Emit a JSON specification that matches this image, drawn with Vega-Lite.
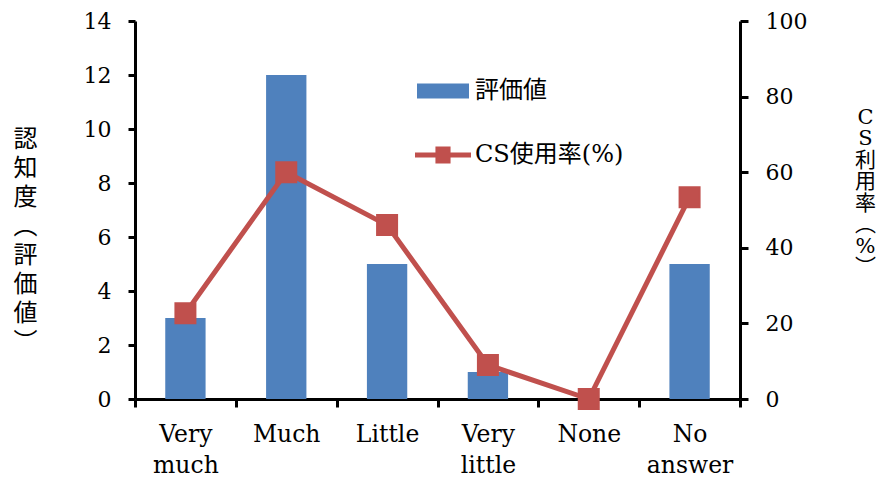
{
  "$schema": "https://vega.github.io/schema/vega-lite/v6.json",
  "width": 605,
  "height": 378,
  "autosize": {"type": "none"},
  "padding": {"left": 135, "top": 21, "right": 142, "bottom": 81},
  "background": "white",
  "config": {
    "view": {"stroke": null},
    "axis": {
      "grid": false,
      "domainColor": "black",
      "domainWidth": 3,
      "tickColor": "black",
      "tickWidth": 3,
      "labelColor": "black",
      "labelFont": "DejaVu Serif",
      "labelFontSize": 22,
      "titleColor": "black",
      "titleFontWeight": "normal"
    }
  },
  "data": {
    "values": [
      {"level": "Very much", "score": 3, "cs": 22.7},
      {"level": "Much", "score": 12, "cs": 60},
      {"level": "Little", "score": 5, "cs": 46},
      {"level": "Very little", "score": 1, "cs": 9},
      {"level": "None", "score": 0, "cs": 0},
      {"level": "No answer", "score": 5, "cs": 53.4}
    ]
  },
  "encoding": {
    "x": {
      "field": "level",
      "type": "nominal",
      "sort": null,
      "scale": {"paddingInner": 0, "paddingOuter": 0},
      "axis": {
        "title": null,
        "labelAngle": 0,
        "labelAlign": "center",
        "labelBaseline": "top",
        "labelExpr": "split(datum.label, ' ')",
        "labelFontSize": 23.5,
        "labelLineHeight": 31,
        "labelPadding": 15,
        "tickBand": "extent",
        "tickSize": 8
      }
    }
  },
  "layer": [
    {
      "mark": {"type": "bar", "width": {"band": 0.4}},
      "encoding": {
        "y": {
          "field": "score",
          "type": "quantitative",
          "scale": {"domain": [0, 14]},
          "axis": {
            "orient": "left",
            "values": [0, 2, 4, 6, 8, 10, 12, 14],
            "tickSize": 7,
            "labelPadding": 17,
            "title": ["認", "知", "度", "︵", "評", "価", "値", "︶"],
            "titleAngle": 0,
            "titleX": -110,
            "titleY": 118,
            "titleAlign": "center",
            "titleBaseline": "middle",
            "titleFont": "Noto Sans CJK JP",
            "titleFontSize": 24,
            "titleLineHeight": 29
          }
        },
        "fill": {
          "datum": "評価値",
          "scale": {"range": ["#4F81BD"]},
          "legend": {
            "title": null,
            "orient": "none",
            "legendX": 282,
            "legendY": 44,
            "padding": 0,
            "symbolType": "M-1,-0.29H1V0.29H-1Z",
            "symbolSize": 2704,
            "symbolStrokeWidth": 0,
            "labelFont": "DejaVu Serif, Noto Sans CJK JP",
            "labelFontSize": 24,
            "labelColor": "black",
            "labelOffset": 6
          }
        }
      }
    },
    {
      "mark": {
        "type": "line",
        "strokeWidth": 5,
        "point": {"shape": "square", "size": 400, "filled": true, "fill": "#C0504D"}
      },
      "encoding": {
        "y": {
          "field": "cs",
          "type": "quantitative",
          "scale": {"domain": [0, 100]},
          "axis": {
            "orient": "right",
            "values": [0, 20, 40, 60, 80, 100],
            "tickSize": 8,
            "labelPadding": 17,
            "title": ["C", "S", "利", "用", "率", "︵", "%", "︶"],
            "titleAngle": 0,
            "titleX": 125,
            "titleY": 96,
            "titleAlign": "center",
            "titleBaseline": "middle",
            "titleFont": "DejaVu Serif, Noto Sans CJK JP",
            "titleFontSize": 21,
            "titleLineHeight": 21.5
          }
        },
        "stroke": {
          "datum": "CS使用率(%)",
          "scale": {"range": ["#C0504D"]},
          "legend": {
            "title": null,
            "orient": "none",
            "legendX": 280,
            "legendY": 106,
            "padding": 0,
            "symbolType": "M-1,-0.09H1V0.09H-1Z M-0.27,-0.3H0.27V0.3H-0.27Z",
            "symbolSize": 3136,
            "labelFont": "DejaVu Serif, Noto Sans CJK JP",
            "labelFontSize": 24,
            "labelColor": "black",
            "labelOffset": 4,
            "encode": {
              "symbols": {"update": {"fill": {"value": "#C0504D"}, "stroke": {"value": "transparent"}, "strokeWidth": {"value": 0}}}
            }
          }
        }
      }
    }
  ],
  "resolve": {"scale": {"y": "independent"}}
}
